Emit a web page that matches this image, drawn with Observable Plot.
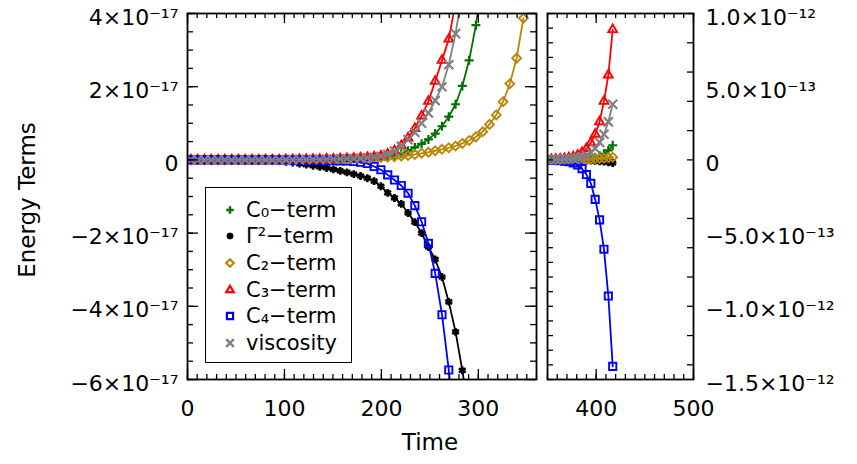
<!DOCTYPE html>
<html>
<head>
<meta charset="utf-8">
<script src="https://cdn.jsdelivr.net/npm/d3@7"></script>
<script src="https://cdn.jsdelivr.net/npm/@observablehq/plot@0.6"></script>
<style>
  body { margin: 0; background: #fff; font-family: "DejaVu Sans", sans-serif; color: #000; }
  #wrap { position: relative; width: 857px; height: 464px; overflow: hidden; background: #fff; }
  #left, #right { position: absolute; top: 0; }
  #left { left: 0; }
  #right { left: 540px; }
  .ytitle { position: absolute; left: 27px; top: 200px; transform: translate(-50%, -50%) rotate(-90deg); font-size: 23px; white-space: nowrap; }
  .xtitle { position: absolute; left: 430px; top: 442px; transform: translate(-50%, -50%); font-size: 23px; white-space: nowrap; }
  #legend { position: absolute; left: 205px; top: 187px; width: 147px; height: 176px; border: 1.6px solid #000; background: #fff; box-sizing: border-box; }
  .lrow { position: absolute; left: 0; height: 26px; font-size: 21px; white-space: nowrap; }
  .lrow svg { position: absolute; left: 15px; top: 4px; }
  .lrow span { position: absolute; left: 40px; top: 0; line-height: 26px; }
</style>
</head>
<body>
<div id="wrap">
  <div id="left"></div>
  <div id="right"></div>
  <div class="ytitle">Energy Terms</div>
  <div class="xtitle">Time</div>
  <div id="legend"></div>
</div>
<script>
// ---------------- data ----------------
// Left panel: values in units of 1e-17
const LEFT_UNIT = 1e-17;
const timeLeft = [3.5, 10.5, 17.5, 24.5, 31.5, 38.5, 45.5, 52.5, 59.5, 66.5,
  73.5, 80.5, 87.5, 94.5, 101.5, 108.5, 115.5, 122.5, 129.5, 136.5,
  143.5, 150.5, 157.5, 164.5, 171.5, 178.5, 185.5, 192.5, 199.5, 206.5,
  213.5, 220.5, 227.5, 234.5, 241.5, 248.5, 255.5, 262.5, 269.5, 276.5,
  283.5, 290.5, 297.5, 304.5, 311.5, 318.5, 325.5, 332.5, 339.5, 346.5];

const c0Left = [0, 0, 0, 0, 0, 0, 0, 0, 0, 0, 0, 0, 0, 0,
  0.005, 0.007, 0.01, 0.012, 0.015, 0.018, 0.02, 0.025, 0.03, 0.035, 0.04, 0.045, 0.05,
  0.06, 0.075, 0.095, 0.12, 0.17, 0.25, 0.34, 0.44, 0.56, 0.72, 0.92, 1.18, 1.52, 2.02, 2.72, 3.68, 5.0,
  null, null, null, null, null, null];

const gammaLeft = [0, 0, 0, 0, 0, 0, 0, 0, 0, 0,
  -0.01, -0.015, -0.02, -0.03, -0.05, -0.07, -0.1, -0.13, -0.16, -0.19, -0.22, -0.26, -0.3, -0.34, -0.39, -0.44, -0.5,
  -0.58, -0.72, -0.9, -1.04, -1.2, -1.45, -1.7, -2.0, -2.38, -2.72, -3.2, -3.88, -4.7, -5.75, -7.0,
  null, null, null, null, null, null, null, null];

const c2Left = [0, 0, 0, 0, 0, 0, 0, 0, 0, 0, 0, 0, 0, 0,
  0.005, 0.007, 0.009, 0.011, 0.014, 0.017, 0.02, 0.024, 0.028, 0.032, 0.037, 0.042, 0.048,
  0.055, 0.065, 0.075, 0.085, 0.1, 0.12, 0.15, 0.18, 0.21, 0.25, 0.29, 0.33, 0.38,
  0.45, 0.53, 0.63, 0.77, 0.97, 1.23, 1.59, 2.08, 2.78, 3.87];

const c3Left = [0, 0, 0, 0, 0, 0, 0, 0, 0, 0, 0, 0, 0, 0,
  0.006, 0.008, 0.01, 0.012, 0.015, 0.018, 0.022, 0.026, 0.031, 0.037, 0.045, 0.055, 0.068,
  0.085, 0.11, 0.16, 0.25, 0.39, 0.6, 0.86, 1.2, 1.6, 2.15, 2.72, 3.3, 4.3,
  null, null, null, null, null, null, null, null, null, null];

const c4Left = [0, 0, 0, 0, 0, 0, 0, 0, 0, 0, 0, 0, 0, 0,
  -0.003, -0.005, -0.007, -0.009, -0.011, -0.013, -0.016, -0.02, -0.025, -0.03, -0.045, -0.065, -0.1,
  -0.18, -0.27, -0.41, -0.55, -0.7, -0.91, -1.25, -1.69, -2.28, -3.1, -4.23, -5.74, -7.8,
  null, null, null, null, null, null, null, null, null, null];

const viscLeft = [0, 0, 0, 0, 0, 0, 0, 0, 0, 0, 0, 0, 0, 0,
  0.005, 0.007, 0.009, 0.011, 0.013, 0.016, 0.019, 0.023, 0.027, 0.032, 0.038, 0.046, 0.056,
  0.07, 0.1, 0.15, 0.24, 0.37, 0.55, 0.75, 1.0, 1.28, 1.62, 2.0, 2.6, 3.45, 4.6,
  null, null, null, null, null, null, null, null, null];

// Right panel: values in units of 1e-12
const RIGHT_UNIT = 1e-12;
const timeRight = [349.5, 354, 358.5, 363, 367.5, 372, 376.5, 381, 385.5, 390, 394.5, 399, 403.5, 408, 412.5, 417];
const c0Right = [0.0005, 0.0007, 0.001, 0.0013, 0.0018, 0.0025, 0.003, 0.004, 0.006, 0.009, 0.013, 0.019, 0.028, 0.042, 0.065, 0.1];
const gammaRight = [-0.0003, -0.0004, -0.0006, -0.0008, -0.001, -0.0013, -0.0017, -0.0022, -0.003, -0.004, -0.005, -0.007, -0.009, -0.012, -0.016, -0.021];
const c2Right = [0.0003, 0.0005, 0.0007, 0.001, 0.0013, 0.0017, 0.0022, 0.003, 0.004, 0.005, 0.0065, 0.008, 0.01, 0.012, 0.015, 0.018];
const c3Right = [0.002, 0.003, 0.004, 0.006, 0.009, 0.014, 0.021, 0.032, 0.05, 0.078, 0.117, 0.175, 0.26, 0.4, 0.58, 0.89];
const c4Right = [-0.001, -0.002, -0.003, -0.005, -0.008, -0.012, -0.02, -0.035, -0.06, -0.1, -0.16, -0.27, -0.41, -0.61, -0.93, -1.41];
const viscRight = [0.001, 0.0015, 0.002, 0.003, 0.004, 0.006, 0.009, 0.014, 0.021, 0.032, 0.05, 0.078, 0.12, 0.175, 0.26, 0.38];

// Series
const seriesLabels = ["C₀−term", "Γ²−term", "C₂−term", "C₃−term", "C₄−term", "viscosity"];
const seriesColors = ["#007000", "#000000", "#b8860b", "#ff0000", "#0000ff", "#808080"];
const seriesSymbols = ["plus", "asterisk", "diamond2", "triangle2", "square2", "times"];

// Axis ticks / labels
const xTicksLeft = [0, 100, 200, 300];
const xTicksRight = [400, 500];
const yTicksLeft = [-6e-17, -4e-17, -2e-17, 0, 2e-17, 4e-17];
const yLabelsLeft = ["−6×10⁻¹⁷", "−4×10⁻¹⁷", "−2×10⁻¹⁷", "0", "2×10⁻¹⁷", "4×10⁻¹⁷"];
const yTicksRight = [-1.5e-12, -1e-12, -5e-13, 0, 5e-13, 1e-12];
const yLabelsRight = ["−1.5×10⁻¹²", "−1.0×10⁻¹²", "−5.0×10⁻¹³", "0", "5.0×10⁻¹³", "1.0×10⁻¹²"];

// ---------------- drawing ----------------
const symbolR = [3.0, 3.7, 4.0, 4.2, 4.6, 4.2];
const symbolSW = [2.2, 2.6, 1.9, 1.9, 1.9, 2.2];
const H = 464, MT = 13, MB = 85;

function panel(o) {
  const fw = o.width - o.marginLeft - o.marginRight;
  const fh = H - MT - MB;
  const marks = [];
  o.values.forEach((vals, si) => {
    const d = vals.map((v, i) => ({t: o.times[i], v: v == null ? null : v * o.unit}));
    marks.push(Plot.line(d, {x: "t", y: "v", stroke: seriesColors[si], strokeWidth: 1.8, clip: true}));
    marks.push(Plot.dot(d.filter(r => r.v != null), {
      x: "t", y: "v", symbol: seriesSymbols[si], r: symbolR[si],
      stroke: seriesColors[si], strokeWidth: symbolSW[si], fill: "none", clip: true
    }));
  });
  const tk = {stroke: "#000", strokeWidth: 1.3};
  // inward ticks
  marks.push(Plot.tickX(o.xMinor, {x: d => d, insetTop: fh - 5, ...tk}));
  marks.push(Plot.tickX(o.xMinor, {x: d => d, insetBottom: fh - 5, ...tk}));
  marks.push(Plot.tickX(o.xTicks, {x: d => d, insetTop: fh - 10, ...tk}));
  marks.push(Plot.tickX(o.xTicks, {x: d => d, insetBottom: fh - 10, ...tk}));
  marks.push(Plot.tickY(o.yMinorL, {y: d => d, insetRight: fw - 6, ...tk}));
  marks.push(Plot.tickY(o.yMinorR, {y: d => d, insetLeft: fw - 6, ...tk}));
  if (o.yMajor) {
    marks.push(Plot.tickY(o.yMajor, {y: d => d, insetRight: fw - 11, ...tk}));
    marks.push(Plot.tickY(o.yMajor, {y: d => d, insetLeft: fw - 11, ...tk}));
  }
  marks.push(Plot.frame({stroke: "#000", strokeWidth: 1.8}));
  const yMap = new Map(o.yTicks.map((d, i) => [d, o.yLabels[i]]));
  marks.push(Plot.axisY(o.yTicks, {
    anchor: o.yAnchor, tickSize: 0, tickPadding: o.yPad, label: null,
    tickFormat: d => yMap.get(d), fontSize: 22, dy: 4
  }));
  marks.push(Plot.axisX(o.xTicks, {
    anchor: "bottom", tickSize: 0, tickPadding: 21, label: null,
    tickFormat: d => String(d), fontSize: 22
  }));
  return Plot.plot({
    width: o.width, height: H,
    marginLeft: o.marginLeft, marginRight: o.marginRight, marginTop: MT, marginBottom: MB,
    x: {domain: o.xDomain, axis: null},
    y: {domain: o.yDomain, axis: null},
    style: {fontFamily: "DejaVu Sans, sans-serif", fontSize: "22px", color: "#000", background: "transparent", overflow: "visible"},
    marks
  });
}

const left = panel({
  width: 545, marginLeft: 187, marginRight: 9,
  times: timeLeft, unit: LEFT_UNIT,
  values: [c0Left, gammaLeft, c2Left, c3Left, c4Left, viscLeft],
  xDomain: [0, 360], yDomain: [-6e-17, 4e-17],
  xTicks: xTicksLeft, xMinor: d3.range(0, 361, 10),
  yTicks: yTicksLeft, yLabels: yLabelsLeft,
  yMinorL: d3.range(-12, 9).map(k => k * 0.5e-17),
  yMinorR: d3.range(-12, 9).map(k => k * 0.5e-17),
  yMajor: yTicksLeft,
  yAnchor: "left", yPad: 9
});
document.getElementById("left").appendChild(left);

const right = panel({
  width: 317, marginLeft: 7, marginRight: 164,
  times: timeRight, unit: RIGHT_UNIT,
  values: [c0Right, gammaRight, c2Right, c3Right, c4Right, viscRight],
  xDomain: [350, 500], yDomain: [-1.5e-12, 1e-12],
  xTicks: xTicksRight, xMinor: d3.range(350, 501, 10),
  yTicks: yTicksRight, yLabels: yLabelsRight,
  yMinorL: d3.range(-15, 11).map(k => k * 1e-13),
  yMinorR: d3.range(-7, 6).map(k => k * 2e-13),
  yMajor: null,
  yAnchor: "right", yPad: 12
});
document.getElementById("right").appendChild(right);

// Legend
const symTypes = {plus: d3.symbolPlus, asterisk: d3.symbolAsterisk, diamond2: d3.symbolDiamond2,
  triangle2: d3.symbolTriangle2, square2: d3.symbolSquare2, times: d3.symbolTimes};
const legend = document.getElementById("legend");
seriesLabels.forEach((lab, i) => {
  const row = document.createElement("div");
  row.className = "lrow";
  row.style.top = (8.5 + 26.67 * i) + "px";
  const rr = symbolR[i] * 0.85;
  const path = d3.symbol(symTypes[seriesSymbols[i]], Math.PI * rr * rr)();
  row.innerHTML = `<svg width="18" height="18" viewBox="-9 -9 18 18"><path d="${path}" fill="none" stroke="${seriesColors[i]}" stroke-width="${symbolSW[i] + 0.3}"/></svg><span></span>`;
  row.querySelector("span").textContent = lab;
  legend.appendChild(row);
});
</script>
</body>
</html>
